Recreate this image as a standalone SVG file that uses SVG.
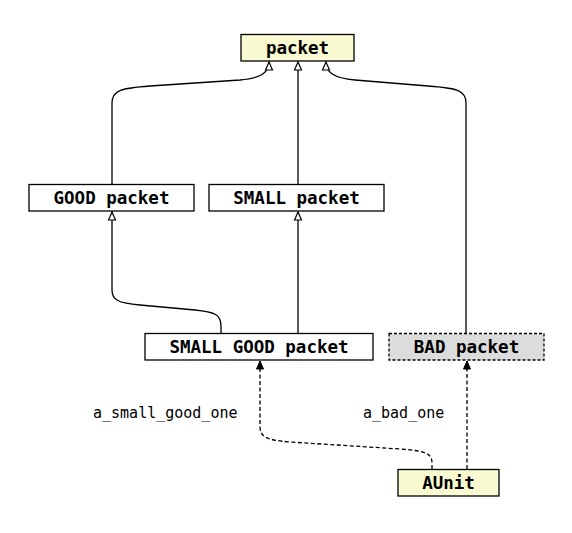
<svg xmlns="http://www.w3.org/2000/svg" width="572" height="533" viewBox="0 0 572 533">
<style>
.box{stroke:#000;stroke-width:1.3}
.yel{fill:#fafad2}
.wht{fill:#fff}
.gry{fill:#dcdcdc;stroke-dasharray:3,2}
.nt{font-family:"DejaVu Sans Mono",monospace;font-weight:bold;font-size:17.5px;text-anchor:middle;fill:#000}
.lt{font-family:"DejaVu Sans Mono",monospace;font-size:15px;fill:#000}
.e{fill:none;stroke:#000;stroke-width:1.3}
.d{stroke-dasharray:4,2.5}
</style>
<defs>
<marker id="ho" markerWidth="10" markerHeight="10" refX="9" refY="5" orient="auto" markerUnits="userSpaceOnUse">
<path d="M1,1.5 L9,5 L1,8.5 Z" fill="#fff" stroke="#000" stroke-width="1.2"/>
</marker>
<marker id="fi" markerWidth="10" markerHeight="10" refX="9" refY="5" orient="auto" markerUnits="userSpaceOnUse">
<path d="M1,1.5 L9,5 L1,8.5 Z" fill="#000" stroke="#000" stroke-width="1"/>
</marker>
</defs>
<g id="edges">
<path class="e" marker-end="url(#ho)" d="M112,184 V103 C112,90 122,88 150,86 L240,80 C262,78 269,72 269,62"/>
<path class="e" marker-end="url(#ho)" d="M298,184 V62"/>
<path class="e" marker-end="url(#ho)" d="M466,333 V103 C466,90 456,88 428,86 L355,80 C333,78 326,72 326,62"/>
<path class="e" marker-end="url(#ho)" d="M221,333 V326 C221,314 214,312 195,310 L140,305 C118,303 112,300 112,290 V212"/>
<path class="e" marker-end="url(#ho)" d="M298,333 V212"/>
<path class="e d" marker-end="url(#fi)" d="M432,469 V463 C432,453 425,451 400,449 L290,442 C266,440 260,437 260,426 V361"/>
<path class="e d" marker-end="url(#fi)" d="M467,469 V361"/>
<text class="lt" x="93" y="418">a_small_good_one</text>
<text class="lt" x="363" y="418">a_bad_one</text>
</g>
<g id="packet"><rect class="box yel" x="241" y="34.5" width="113" height="26.5"/><text class="nt" x="297.5" y="54">packet</text></g>
<g id="good"><rect class="box wht" x="29" y="184.5" width="165" height="26.5"/><text class="nt" x="111.5" y="204">GOOD packet</text></g>
<g id="small"><rect class="box wht" x="209" y="184.5" width="175" height="26.5"/><text class="nt" x="296.5" y="204">SMALL packet</text></g>
<g id="smallgood"><rect class="box wht" x="145" y="333.5" width="228" height="26.5"/><text class="nt" x="259" y="353">SMALL GOOD packet</text></g>
<g id="bad"><rect class="box gry" x="389" y="333.5" width="155" height="26.5"/><text class="nt" x="466.5" y="353">BAD packet</text></g>
<g id="aunit"><rect class="box yel" x="398" y="469.5" width="101" height="26.5"/><text class="nt" x="448.5" y="489">AUnit</text></g>
</svg>
